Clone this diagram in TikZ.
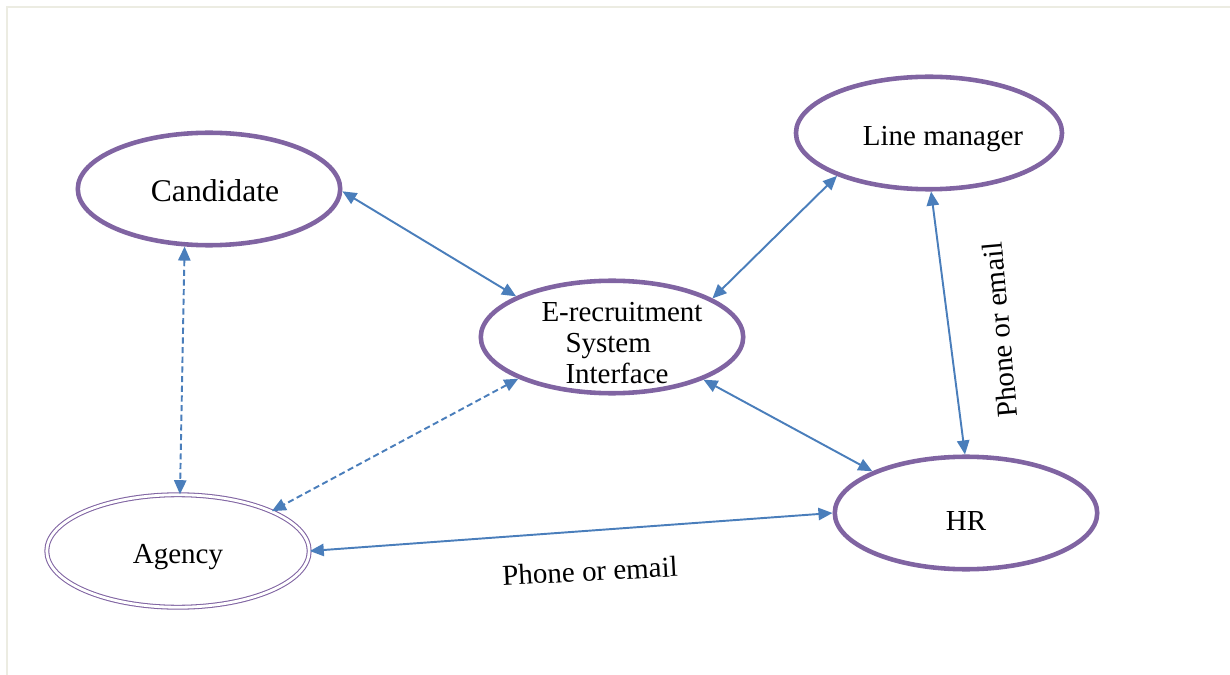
\documentclass[tikz,border=0pt]{standalone}
\usepackage{fontspec}
\setmainfont{Liberation Serif}
\usetikzlibrary{shapes.geometric,arrows.meta}

\definecolor{ovalpurple}{RGB}{128,100,162}
\definecolor{linkblue}{RGB}{74,126,187}
\definecolor{framegray}{RGB}{236,236,226}

\tikzset{
  actor/.style={ellipse, draw=ovalpurple, line width=2.6pt, minimum width=5.25cm,
    minimum height=2.25cm, inner sep=0pt, text height=0.5cm, text depth=0pt,
    font=\fontsize{16.5}{17.6}\selectfont},
  agent/.style={actor, line width=0.6pt, double, double distance=1.6pt},
  link/.style={{Triangle[length=8pt,width=7pt]}-{Triangle[length=8pt,width=7pt]},
    draw=linkblue, line width=1.1pt},
  dlink/.style={link, dash pattern=on 3.5pt off 2pt},
  note/.style={font=\fontsize{16.5}{17.6}\selectfont, inner sep=0pt}
}

\begin{document}
\begin{tikzpicture}[x=0.02cm,y=-0.02cm]
\useasboundingbox (0,0) rectangle (1230,675);
\draw [framegray, line width=1.2pt] (7,675) -- (7,7) -- (1230,7);

% the five parties
\node [actor, font=\fontsize{18}{21}\selectfont] (cand) at (209,189) {\hspace{0.24cm}Candidate};
\node [actor] (lm) at (929,133) {\hspace{0.56cm}Line manager};
\node [actor] (sys) at (612,337) {};
\node [note, align=left] (systext) at (622,343) {E-recruitment\\\hspace{0.48cm}System\\\hspace{0.48cm}Interface};
\node [actor, text height=0.7cm] (hr) at (966,513) {HR};
\node [agent] (agency) at (178,551) {Agency};

% who talks to whom
\draw [link] (cand.-1) -- (sys.157);
\draw [link] (lm.-155) -- (sys.21);
\draw [link] (lm.-88) -- (hr.91);
\draw [link] (sys.-25) -- (hr.156);
\draw [dlink] (cand.-113) -- (agency.88);
\draw [dlink] (sys.-156) -- (agency.23);
\draw [link] (agency.east) -- (hr.west);

\node [note, rotate=3] (phone1) at (590,571) {Phone or email};
\node [note, rotate=95] (phone2) at (1000,330) {Phone or email};
\end{tikzpicture}
\end{document}
